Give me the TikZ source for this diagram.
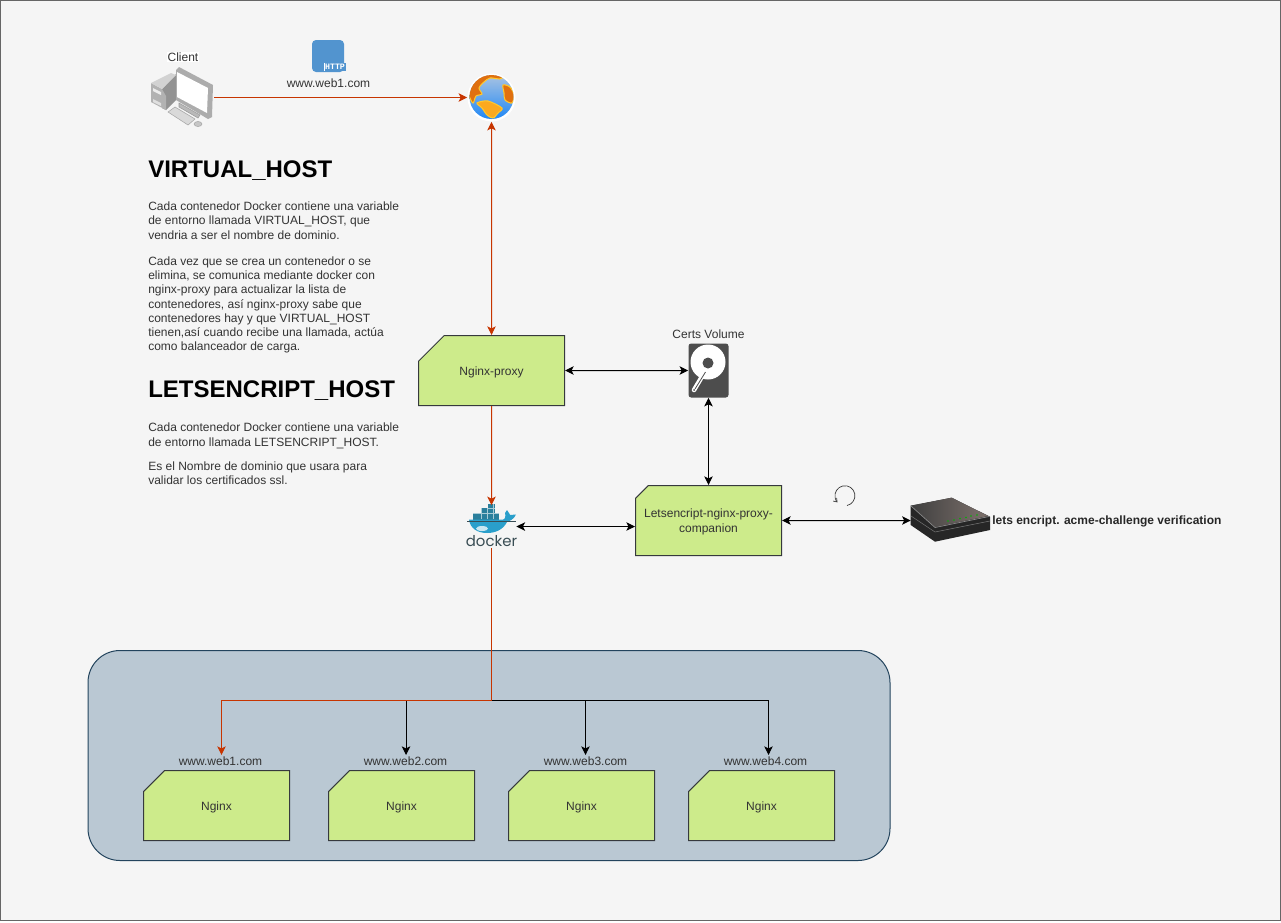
\documentclass[tikz,border=0pt]{standalone}
\usepackage{fontspec}
\setmainfont{Liberation Sans}
\newfontfamily\logofont{Poppins}
\newfontfamily\httpfont{Liberation Mono}
\usetikzlibrary{calc,shapes.misc,arrows.meta,positioning}
\definecolor{pagefill}{HTML}{F5F5F5}
\definecolor{pageline}{HTML}{666666}
\definecolor{cardfill}{HTML}{CDEB8B}
\definecolor{cardline}{HTML}{36393D}
\definecolor{groupfill}{HTML}{BAC8D3}
\definecolor{groupline}{HTML}{23445D}
\definecolor{linkred}{HTML}{C73500}
\definecolor{labeltext}{HTML}{333333}
\definecolor{httpblue}{HTML}{5294CF}
\definecolor{hddgrey}{HTML}{4D4D4D}
\definecolor{whaleblue}{HTML}{2A9FCB}
\definecolor{boxteal}{HTML}{2B7F9C}
\definecolor{logotext}{HTML}{394D54}
\definecolor{landdark}{HTML}{E0700F}
\definecolor{landlight}{HTML}{FBA91F}
\definecolor{landedge}{HTML}{FFC72C}
\definecolor{seatop}{HTML}{A9C3E2}
\definecolor{seabottom}{HTML}{2088F5}
\definecolor{routerleft}{HTML}{3F3F3F}
\definecolor{routerright}{HTML}{7D716C}
\newcommand{\cardtext}[1]{\raisebox{-1.1pt}[6.6pt][2pt]{#1}}
\tikzstyle{every edge}=[draw,thin,line width=0.75pt]
\tikzstyle{card}=[chamfered rectangle,chamfered rectangle corners=north west,
  chamfered rectangle xsep=15pt,chamfered rectangle ysep=15pt,
  minimum width=109.5pt,minimum height=52.5pt,inner sep=0pt,
  fill=cardfill,draw=cardline,line width=0.75pt,text=labeltext,
  align=center,font=\fontsize{9}{10.8}\selectfont]
\tikzstyle{label}=[text=labeltext,inner sep=1pt,font=\fontsize{9}{10.8}\selectfont]
\tikzstyle{heading}=[anchor=west,inner sep=0pt,text=black,font=\bfseries\fontsize{18}{21}\selectfont]
\tikzstyle{bodytext}=[anchor=north west,inner sep=0pt,align=left,text=labeltext,font=\fontsize{9}{10.7}\selectfont]
\tikzstyle{iconbox}=[rectangle,draw=none,fill=none,inner sep=0pt]
\tikzstyle{redlink}=[linkred]
\tikzstyle{land}=[draw=landedge,line width=0.8pt]
\begin{document}
\begin{tikzpicture}[x=0.75pt,y=-0.75pt,>={Stealth[length=6.5pt,width=6.4pt,inset=1.6pt]}]
  \useasboundingbox (0,0) rectangle (1281,922);
  \fill[pagefill,draw=pageline,line width=0.75pt] (0.5,0.5) rectangle (1280.5,920.5);

  % Container group:
  \node (webgroup) [rectangle,rounded corners=24pt,fill=groupfill,draw=groupline,line width=0.75pt,
    minimum width=601.5pt,minimum height=157.5pt,inner sep=0pt] at (489,755.5) {};

  % Client:
  \node (client) [iconbox,minimum width=48pt,minimum height=45pt] at (182,97.5) {};
  \fill[gray!85] (162,89) -- (176,74) -- (176,100) -- (166,110) -- (162,108) -- cycle;
  \fill[gray!60] (151,83) -- (162,89) -- (166,96) -- (166,110) -- (151,102) -- cycle;
  \fill[gray!35] (151,83) -- (171,73) -- (176,75) -- (162,89) -- cycle;
  \fill[white!85!gray] (153,88) -- (161,92) -- (161,95) -- (153,91) -- cycle;
  \fill[gray!25] (153,99) -- (161,103) -- (161,106) -- (153,102) -- cycle;
  \fill[gray!65] (176,70) -- (179,67) -- (213,85) -- (212,117) -- (208,119) -- (176,100) -- cycle;
  \fill[white] (177,72) -- (208,88) -- (207,113) -- (177,97) -- cycle;
  \fill[gray!55,draw=gray!80,line width=0.4pt] (179,103) -- (200,115) -- (198,118) -- (179,107) -- cycle;
  \fill[gray!30,draw=gray!70,line width=0.4pt] (168,112) -- (175,107) -- (195,119) -- (188,125) -- cycle;
  \fill[gray!45,draw=gray!70,line width=0.4pt] (198,124) ellipse (4 and 2.5);
  \node (clientlabel) [label,fill=white,inner sep=0.5pt] at (183,57) {Client};

  % Http request:
  \node (http) [iconbox,minimum width=24pt,minimum height=24pt,rounded corners=3pt,fill=httpblue] at (328,56) {};
  \node (httpbadge) [rectangle,fill=httpblue,draw=none,inner xsep=0.5pt,inner ysep=1pt,text=white,
    font=\httpfont\bfseries\fontsize{6.2}{6.2}\selectfont] at (335,67) {HTTP};
  \draw[white,line width=0.6pt] (httpbadge.north west) -- (httpbadge.south west);
  \node (httplabel) [label] at (328.5,83) {www.web1.com};

  % Globe:
  \node (globe) [circle,fill=white,draw=none,inner sep=0pt,minimum size=36pt] at (491.5,97.5) {};
  \begin{scope}
    \clip (491.5,97) circle[radius=22];
    \shade[top color=seatop,bottom color=seabottom] (469,75) rectangle (514,119);
    \fill[landdark,land] plot[smooth cycle] coordinates
      {(469,95) (470,84) (478,76) (490,73) (503,76) (500,79) (490,78) (484,82) (479,88) (482,94) (476,96) (473,103)};
    \fill[landlight,land] plot[smooth cycle] coordinates
      {(477,103) (488,101) (502,108) (498,113) (493,118) (487,115) (482,108)};
    \fill[landdark,land] plot[smooth cycle] coordinates
      {(503,85) (510,87) (514,95) (512,103) (505,100) (504,93)};
  \end{scope}

  % Proxy and volume:
  \node (proxy) [card] at (491.5,370.5) {\cardtext{Nginx-proxy}};
  \node (certs) [iconbox,minimum width=30pt,minimum height=40.5pt,rounded corners=2pt,fill=hddgrey] at (708.5,370.5) {};
  \fill[white] (708,362) circle[radius=17.5];
  \fill[hddgrey] (708,363) circle[radius=5.5];
  \draw[white,line width=3.4pt,line cap=round] (703.5,374) -- (694,390);
  \draw[hddgrey,line width=0.6pt] (705.5,372) -- (695,389);
  \fill[hddgrey] (694,390) circle[radius=1];
  \node (certslabel) [label] at (708.5,334) {Certs Volume};

  % Docker:
  \node (docker) [iconbox,minimum width=37pt,minimum height=31.5pt] at (491.5,526.5) {};
  \fill[boxteal] (473,513) rectangle (499,519.5);
  \fill[boxteal] (481,508) rectangle (495,513);
  \fill[boxteal] (488,504) rectangle (495,508);
  \draw[white!60!boxteal,line width=0.3pt] (481,508) -- (481,519) (487,508) -- (487,519)
    (493,504) -- (493,519) (473,513) -- (499,513) (488,508) -- (495,508);
  \fill[whaleblue] (469,519.5) -- (503,519.5) .. controls (505,519.5) and (506,516) .. (505,513)
    -- (507,510) -- (509,513) -- (510,515) -- (516,514.5)
    .. controls (514,519) and (510,521) .. (507,522)
    .. controls (503,530) and (495,533) .. (487,533)
    .. controls (477,533) and (470,528) .. (469,519.5) -- cycle;
  \fill[white!75!whaleblue] (482,528.5) ellipse (6 and 2.5);
  \draw[logotext,line width=0.3pt] (467,521) -- (516,521);
  \node (dockerlogo) [inner sep=0pt,text=logotext,font=\logofont\fontsize{11.2}{12}\selectfont] at (491.5,541) {docker};

  % Companion and router:
  \node (companion) [card] at (708.5,520.5) {\cardtext{\makebox[0pt]{Letsencript-nginx-proxy-}}\\\cardtext{\makebox[0pt]{companion}}};
  \node (router) [iconbox,minimum width=60pt,minimum height=33.75pt] at (951,520.5) {};
  \fill[black!85] (910.7,505.7) -- (951.7,497.7) -- (990,516.7) -- (990,530) -- (935,541.7) -- (910.7,525) -- cycle;
  \shade[left color=routerleft,right color=routerright] (910.7,505.7) -- (951.7,497.7) -- (988,516) -- (935,527) -- cycle;
  \draw[black!45,line width=0.5pt] (911,506) -- (935,527.5) -- (989,516.5);
  \draw[black!55,line width=0.4pt] (911,516) -- (935,532) -- (990,521);
  \fill[green!70!black] (948,521) circle[radius=0.9] (954,520) circle[radius=0.9] (960,518.5) circle[radius=0.9]
    (966,517.5) circle[radius=0.9] (971,516) circle[radius=0.9] (977,515) circle[radius=0.9];
  \node (routerlabel) [label,anchor=west,font=\bfseries\fontsize{9}{10.8}\selectfont,text=black!85,inner sep=0pt] at (992,521) {lets encript. acme-challenge verification};
  \draw[black!80,line width=0.5pt,-{Straight Barb[length=2.5pt,width=3.5pt]}] (847,505.5) arc[start angle=-78,end angle=222,radius=7.5pt];

  % Headings and text:
  \node (virtualhead) [heading] at (148,171) {VIRTUAL\_HOST};
  \node (virtualtext) [bodytext] at (148,201.5) {Cada contenedor Docker contiene una variable\\
    de entorno llamada VIRTUAL\_HOST, que\\
    vendria a ser el nombre de dominio.\\[9pt]
    Cada vez que se crea un contenedor o se\\
    elimina, se comunica mediante docker con\\
    nginx-proxy para actualizar la lista de\\
    contenedores, así nginx-proxy sabe que\\
    contenedores hay y que VIRTUAL\_HOST\\
    tienen,así cuando recibe una llamada, actúa\\
    como balanceador de carga.};
  \node (letshead) [heading] at (148,391) {LETSENCRIPT\_HOST};
  \node (letstext) [bodytext] at (148,423) {Cada contenedor Docker contiene una variable\\
    de entorno llamada LETSENCRIPT\_HOST.\\[7.5pt]
    Es el Nombre de dominio que usara para\\
    validar los certificados ssl.};

  % Web containers:
  \node (web1) [card] at (216.5,805.5) {\cardtext{Nginx}};
  \node (web2) [card] at (401.5,805.5) {\cardtext{Nginx}};
  \node (web3) [card] at (581.5,805.5) {\cardtext{Nginx}};
  \node (web4) [card] at (761.5,805.5) {\cardtext{Nginx}};
  \node (web1label) [label] at (220.5,761) {www.web1.com};
  \node (web2label) [label] at (405.5,761) {www.web2.com};
  \node (web3label) [label] at (585.5,761) {www.web3.com};
  \node (web4label) [label] at (765.5,761) {www.web4.com};
  \coordinate (branch) at (491.5,700.5);

  \path
  (proxy) edge[<->] (certs)
  (certs) edge[<->] (companion)
  (companion) edge[<->] (router)
  (docker.east) edge[<->] (docker.east -| companion.west);
  \draw[line width=0.75pt,->] (branch) -| ([xshift=0.4pt]web2label.north);
  \draw[line width=0.75pt,->] (branch) -| (web3label.north);
  \draw[line width=0.75pt,->] (branch) -| ([xshift=2.25pt]web4label.north);
  \draw[redlink,line width=0.75pt,->] (branch) -| ([xshift=0.75pt]web1label.north);
  \path[redlink]
  (client) edge[->] (globe)
  (globe) edge[<->] (proxy)
  (proxy) edge[->] (proxy |- docker.north)
  (docker) edge[-] (docker |- branch);
\end{tikzpicture}
\end{document}
